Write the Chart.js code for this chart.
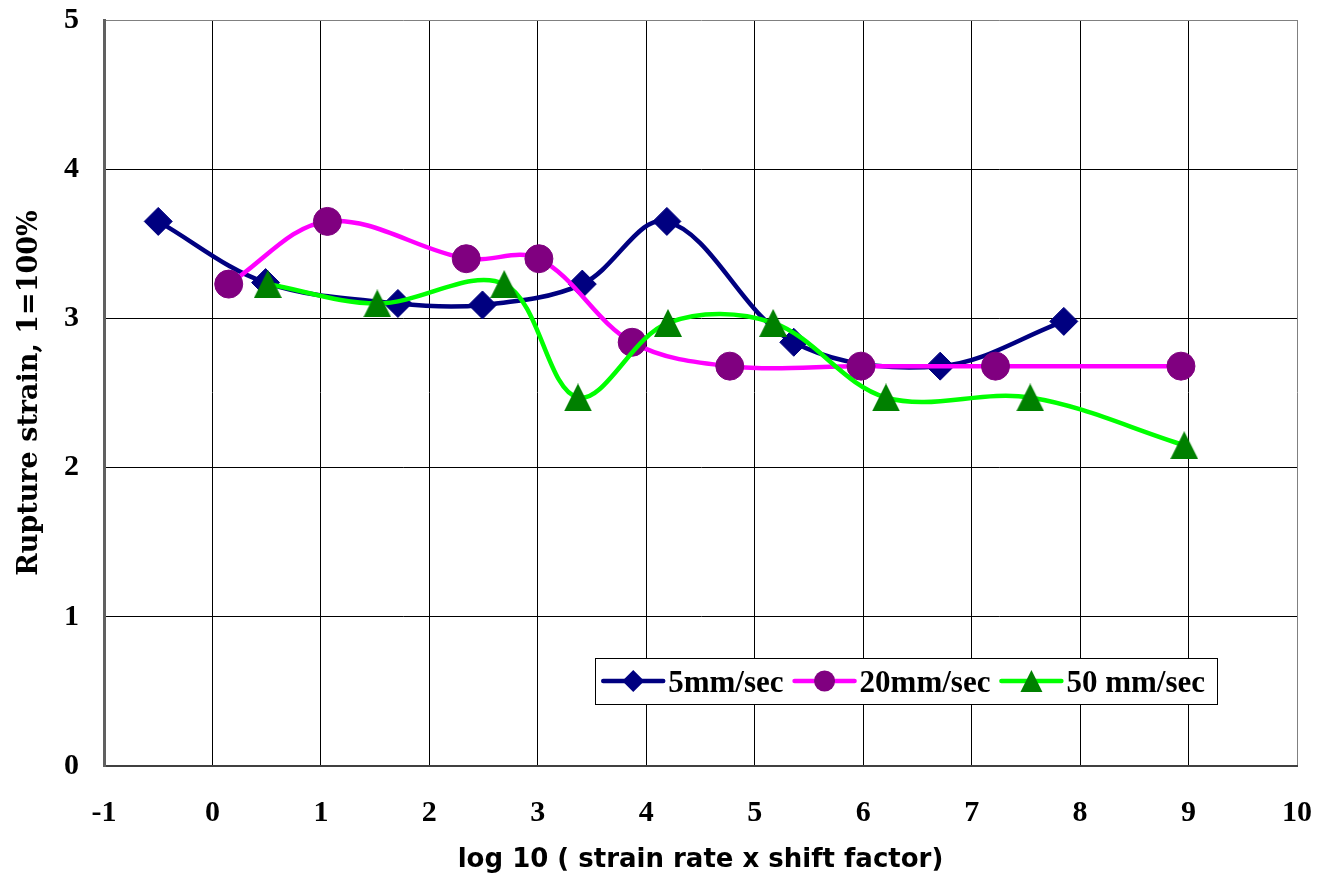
<!DOCTYPE html>
<html>
<head>
<meta charset="utf-8">
<script src="https://cdn.jsdelivr.net/npm/chart.js@4.4.1/dist/chart.umd.min.js"></script>
<style>
html,body{margin:0;padding:0;background:#ffffff;}
#wrap{width:1318px;height:886px;position:relative;}
</style>
</head>
<body>
<div id="wrap"><canvas id="c" width="1318" height="886"></canvas></div>
<script>
// ---- data ----
const seriesNames = ['5mm/sec', '20mm/sec', '50 mm/sec'];
const x5  = [-0.5, 0.49, 1.71, 2.49, 3.41, 4.19, 5.36, 6.71, 7.85];
const y5  = [3.65, 3.24, 3.10, 3.09, 3.23, 3.65, 2.84, 2.68, 2.98];
const x20 = [0.15, 1.06, 2.34, 3.01, 3.87, 4.77, 5.98, 7.22, 8.93];
const y20 = [3.23, 3.65, 3.40, 3.40, 2.84, 2.68, 2.68, 2.68, 2.68];
const x50 = [0.51, 1.52, 2.69, 3.37, 4.20, 5.17, 6.21, 7.54, 8.96];
const y50 = [3.23, 3.10, 3.23, 2.47, 2.97, 2.97, 2.47, 2.47, 2.15];
const xTitle = 'log 10 ( strain rate x shift factor)';
const yTitle = 'Rupture strain, 1=100%';

// ---- styles ----
const lineColors   = ['#000080', '#FF00FF', '#00FF00'];
const markerColors = ['#000080', '#800080', '#008000'];

function triCanvas(size, color) {
  const c = document.createElement('canvas');
  c.width = size; c.height = size;
  const g = c.getContext('2d');
  g.fillStyle = color;
  g.beginPath();
  g.moveTo(size / 2, 0);
  g.lineTo(size, size);
  g.lineTo(0, size);
  g.closePath();
  g.fill();
  return c;
}
const triPoint = triCanvas(28, markerColors[2]);

function pts(xs, ys) { return xs.map((x, i) => ({ x: x, y: ys[i] })); }

const baseDs = { borderWidth: 4.5, tension: 0.35, fill: false, pointBorderWidth: 1 };

const datasets = [
  Object.assign({}, baseDs, {
    label: seriesNames[0], data: pts(x5, y5),
    borderColor: lineColors[0], backgroundColor: markerColors[0],
    pointStyle: 'rectRot', pointRadius: 14,
    pointBackgroundColor: markerColors[0], pointBorderColor: markerColors[0], order: 3
  }),
  Object.assign({}, baseDs, {
    label: seriesNames[1], data: pts(x20, y20),
    borderColor: lineColors[1], backgroundColor: markerColors[1],
    pointStyle: 'circle', pointRadius: 14,
    pointBackgroundColor: markerColors[1], pointBorderColor: markerColors[1], order: 2
  }),
  Object.assign({}, baseDs, {
    label: seriesNames[2], data: pts(x50, y50),
    borderColor: lineColors[2], backgroundColor: markerColors[2],
    pointStyle: triPoint, pointRadius: 14,
    pointBackgroundColor: markerColors[2], pointBorderColor: markerColors[2], order: 1
  })
];

// legend drawn inside the plot area, like the reference
const boxLegend = {
  id: 'boxLegend',
  afterDraw(chart) {
    const ctx = chart.ctx;
    const a = chart.chartArea;
    const font = 'bold 31px "Liberation Serif", "Times New Roman", serif';
    ctx.save();
    ctx.font = font;
    const padL = 8, padR = 12, lineLen = 60, gapText = 5, gapItem = 11;
    const dsets = chart.data.datasets;
    let total = padL + padR;
    const widths = dsets.map(d => ctx.measureText(d.label).width);
    widths.forEach((w, i) => { total += lineLen + gapText + w + (i < widths.length - 1 ? gapItem : 0); });
    const right = a.right - 80;
    const left = right - total;
    const bottom = a.bottom - 62;
    const top = bottom - 46;
    const cy = (top + bottom) / 2;
    ctx.fillStyle = '#ffffff';
    ctx.fillRect(left, top, total, bottom - top);
    ctx.strokeStyle = '#000000';
    ctx.lineWidth = 1;
    ctx.strokeRect(Math.round(left) + 0.5, Math.round(top) + 0.5, Math.round(total), Math.round(bottom - top));
    let x = left + padL;
    dsets.forEach((d, i) => {
      ctx.strokeStyle = d.borderColor;
      ctx.lineWidth = 4.5;
      ctx.lineCap = 'round';
      ctx.beginPath();
      ctx.moveTo(x, cy);
      ctx.lineTo(x + lineLen, cy);
      ctx.stroke();
      const mx = x + lineLen / 2;
      ctx.fillStyle = d.pointBackgroundColor;
      ctx.beginPath();
      if (d.pointStyle === 'rectRot') {
        ctx.moveTo(mx, cy - 11); ctx.lineTo(mx + 11, cy); ctx.lineTo(mx, cy + 11); ctx.lineTo(mx - 11, cy);
      } else if (d.pointStyle === 'circle') {
        ctx.ellipse(mx, cy, 10.5, 10.5, 0, 0, Math.PI * 2);
      } else {
        ctx.moveTo(mx, cy - 11); ctx.lineTo(mx + 11, cy + 11); ctx.lineTo(mx - 11, cy + 11);
      }
      ctx.closePath();
      ctx.fill();
      x += lineLen + gapText;
      ctx.fillStyle = '#000000';
      ctx.textBaseline = 'alphabetic';
      ctx.textAlign = 'left';
      ctx.font = font;
      ctx.fillText(d.label, x, cy + 11);
      x += widths[i] + gapItem;
    });
    ctx.restore();
  }
};

const tickFont = { family: '"Liberation Serif", "Times New Roman", serif', weight: 'bold', size: 30 };

new Chart(document.getElementById('c'), {
  type: 'line',
  data: { datasets: datasets },
  options: {
    responsive: false,
    animation: false,
    devicePixelRatio: 1,
    layout: { padding: { top: 20, right: 21, bottom: 0, left: 0 } },
    plugins: {
      legend: { display: false },
      tooltip: { enabled: false },
      title: { display: false }
    },
    scales: {
      x: {
        type: 'linear',
        min: -1, max: 10,
        ticks: { stepSize: 1, font: tickFont, color: '#000000', padding: 29 },
        grid: {
          drawTicks: false,
          lineWidth: 1,
          color: (c) => (c.tick && c.tick.value === 10 ? '#808080' : '#000000')
        },
        border: { display: true, color: '#404040', width: 2 },
        title: {
          display: true, text: xTitle, color: '#000000',
          font: { family: '"DejaVu Sans", Arial, sans-serif', weight: 'bold', size: 26 },
          padding: { top: 0, bottom: 10 }
        },
        afterFit: (s) => { s.height = 120; s.paddingLeft = 0; s.paddingRight = 0; }
      },
      y: {
        type: 'linear',
        min: 0, max: 5,
        ticks: { stepSize: 1, font: tickFont, color: '#000000', padding: 25 },
        grid: {
          drawTicks: false,
          lineWidth: 1,
          color: (c) => (c.tick && c.tick.value === 5 ? '#808080' : '#000000')
        },
        border: { display: true, color: '#606060', width: 3 },
        title: {
          display: true, text: yTitle, color: '#000000',
          font: { family: '"DejaVu Serif", "Times New Roman", serif', weight: 'bold', size: 27 },
          padding: { top: 14, bottom: 0 }
        },
        afterFit: (s) => { s.width = 104; s.paddingTop = 0; s.paddingBottom = 0; }
      }
    }
  },
  plugins: [boxLegend]
});
</script>
</body>
</html>
